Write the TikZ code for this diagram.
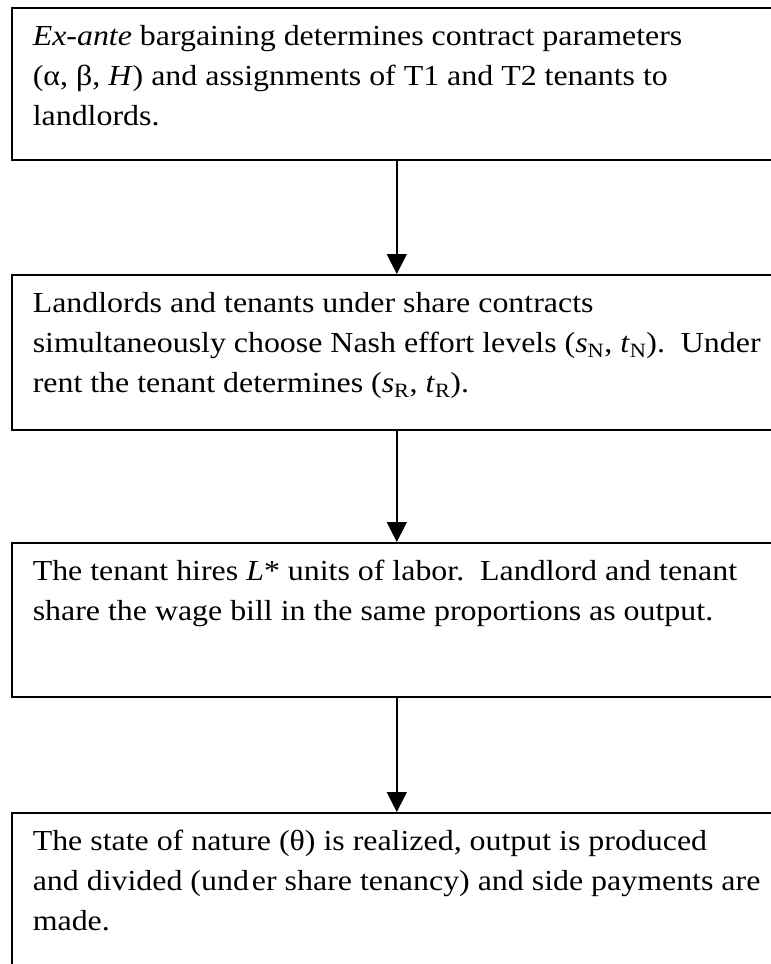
\documentclass[tikz,border=0pt]{standalone}
\usepackage{fontspec}
\setmainfont[FakeStretch=1.1]{Liberation Serif}
\usetikzlibrary{arrows.meta}
\newcommand\stagetext[2]{\begin{minipage}[c][#1][t]{770pt}\fontsize{29}{40}\selectfont\raggedright\leftskip=21pt\parindent=0pt\rule{0pt}{38pt}#2\end{minipage}}
\begin{document}
\begin{tikzpicture}[x=1pt,y=1pt,
  stagebox/.style={draw, line width=1.6pt, inner sep=0pt, anchor=north west},
  flow/.style={-{Triangle[width=20pt,length=20pt]}, line width=1.4pt}]
\useasboundingbox (0,0) rectangle (771,-964);
\clip (0,0) rectangle (771,-964);
\node[stagebox] (b1) at (11,-7) {\stagetext{152pt}{\textit{Ex-ante} bargaining determines contract parameters\\
(α, β, \textit{H}) and assignments of T1 and T2 tenants to\\
landlords.}};
\node[stagebox] (b2) at (11,-274) {\stagetext{155pt}{Landlords and tenants under share contracts\\
simultaneously choose Nash effort levels (\textit{s}\textsubscript{N}, \textit{t}\textsubscript{N}).\ \ Under\\
rent the tenant determines (\textit{s}\textsubscript{R}, \textit{t}\textsubscript{R}).}};
\node[stagebox] (b3) at (11,-542) {\stagetext{154pt}{The tenant hires \textit{L}* units of labor.\ \ Landlord and tenant\\
share the wage bill in the same proportions as output.}};
\node[stagebox] (b4) at (11,-812) {\stagetext{160pt}{The state of nature (θ) is realized, output is produced\\
and divided (und\hspace{3pt}er share tenancy) and side payments are\\
made.}};
\draw[flow] (b1.south) -- (b2.north);
\draw[flow] (b2.south) -- (b3.north);
\draw[flow] (b3.south) -- (b4.north);
\end{tikzpicture}
\end{document}
